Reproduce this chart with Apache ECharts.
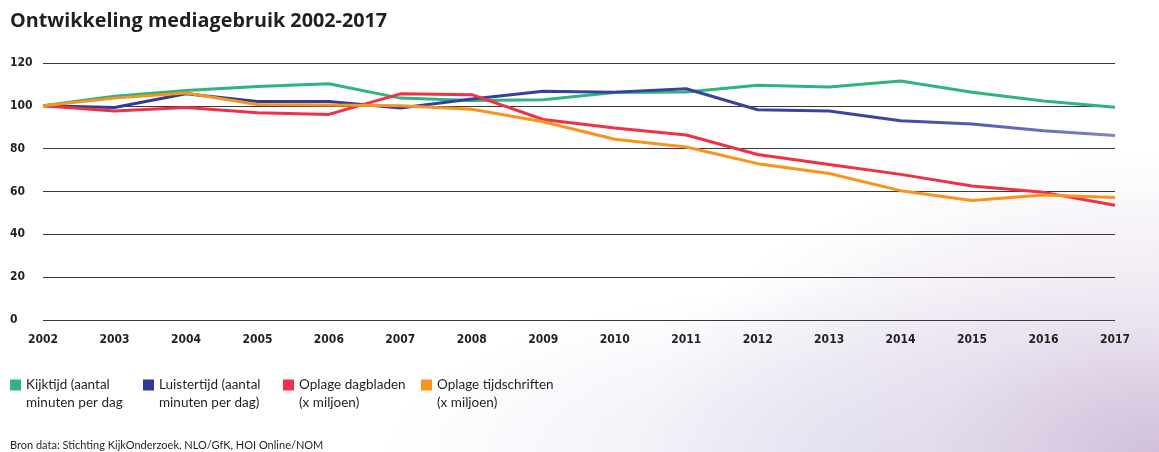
<!DOCTYPE html>
<html>
<head>
<meta charset="utf-8">
<script src="https://cdn.jsdelivr.net/npm/echarts@6/dist/echarts.min.js"></script>
<style>
  html, body { margin: 0; padding: 0; }
  body {
    width: 1159px; height: 452px; overflow: hidden;
    background:
      radial-gradient(ellipse 520px 300px at 100% 100%, rgba(205,186,215,0.9) 0%, rgba(225,212,232,0.6) 45%, rgba(255,255,255,0) 100%),
      radial-gradient(ellipse 520px 170px at 78% 100%, rgba(220,224,240,0.75) 0%, rgba(255,255,255,0) 100%),
      #ffffff;
  }
  #chart { width: 1159px; height: 452px; }
</style>
</head>
<body>
<div id="chart"></div>
<script>
const titleText = 'Ontwikkeling mediagebruik 2002-2017';
const sourceText = 'Bron data: Stichting KijkOnderzoek, NLO/GfK, HOI Online/NOM';
const years = ['2002','2003','2004','2005','2006','2007','2008','2009','2010','2011','2012','2013','2014','2015','2016','2017'];
const kijktijd     = [100, 104.5, 107.2, 109, 110.3, 103.6, 102.5, 102.8, 106.2, 106.5, 109.6, 108.8, 111.6, 106.3, 102.3, 99.3];
const luistertijd  = [100, 99.2, 105.6, 102, 102, 99, 103.2, 106.8, 106.4, 108, 98.2, 97.6, 93, 91.5, 88.4, 86.2];
const dagbladen    = [100, 97.6, 99.2, 96.8, 96, 105.6, 105.2, 93.6, 89.6, 86.4, 77.3, 72.6, 68, 62.6, 59.6, 53.6];
const tijdschriften= [100, 103.6, 106, 100.6, 100.4, 100, 98.4, 92.6, 84.4, 80.8, 73, 68.4, 60.4, 55.8, 58.4, 57.2];
const seriesNames = ['Kijktijd', 'Luistertijd', 'Oplage dagbladen', 'Oplage tijdschriften'];
const legendLine1 = ['Kijktijd (aantal', 'Luistertijd (aantal', 'Oplage dagbladen', 'Oplage tijdschriften'];
const legendLine2 = ['minuten per dag', 'minuten per dag)', '(x miljoen)', '(x miljoen)'];
const yTicks = [0, 20, 40, 60, 80, 100, 120];

const colors = ['#2fb57c', '#2e3a96', '#ee3148', '#f7941e'];
const seriesData = [kijktijd, luistertijd, dagbladen, tijdschriften];
const legendX = [10, 143, 283, 421];
const legendY = 378;
const axisFont = '"DejaVu Sans Condensed", "Liberation Sans Narrow", sans-serif';

const chart = echarts.init(document.getElementById('chart'), null, { renderer: 'canvas' });

const legends = seriesNames.map((n, i) => ({
  left: legendX[i], top: legendY,
  data: [n],
  icon: 'rect', itemWidth: 11, itemHeight: 11, itemGap: 0,
  padding: 0,
  formatter: () => legendLine1[i],
  textStyle: { fontFamily: 'Lato, "Open Sans", sans-serif', fontSize: 13.5, color: '#231f20' },
  selectedMode: false
}));

const graphics = [
  { type: 'text', left: 10, top: 11, style: { text: titleText, fontFamily: '"Open Sans", sans-serif', fontWeight: 'bold', fontSize: 19.8, fill: '#231f20' } },
  { type: 'text', left: 10, top: 440, style: { text: sourceText, fontFamily: 'Lato, "Open Sans", sans-serif', fontSize: 11, fill: '#231f20' } }
].concat(legendLine2.map((t, i) => ({
  type: 'text', left: legendX[i] + 16, top: legendY + 18,
  style: { text: t, fontFamily: 'Lato, "Open Sans", sans-serif', fontSize: 13.5, fill: '#231f20' }
})));

const option = {
  animation: false,
  backgroundColor: 'transparent',
  legend: legends,
  graphic: graphics,
  grid: { left: 43, right: 44, top: 63, bottom: 132, containLabel: false },
  xAxis: {
    type: 'category', data: years, boundaryGap: false,
    axisLine: { show: false }, axisTick: { show: false },
    axisLabel: { margin: 14, color: '#231f20', fontFamily: axisFont, fontSize: 12, fontWeight: 'bold', interval: 0 },
    splitLine: { show: false }
  },
  yAxis: {
    type: 'value', min: 0, max: 120, interval: 20,
    axisLine: { show: false }, axisTick: { show: false },
    axisLabel: { margin: 33, align: 'left', color: '#231f20', fontFamily: axisFont, fontSize: 12, fontWeight: 'bold',
      formatter: v => yTicks.includes(v) ? String(v) : '' },
    splitLine: { show: true, lineStyle: { color: '#3a3a3a', width: 1 } }
  },
  series: seriesNames.map((n, i) => ({
    name: n, type: 'line', data: seriesData[i],
    symbol: 'none', smooth: false,
    lineStyle: {
      width: 3,
      color: i === 1 ? new echarts.graphic.LinearGradient(0, 0, 1, 0, [
        { offset: 0, color: '#2e3a96' }, { offset: 0.78, color: '#3a45a0' }, { offset: 1, color: '#7f85c3' }
      ]) : colors[i]
    },
    itemStyle: { color: colors[i] },
    z: 2 + i
  }))
};
chart.setOption(option);
</script>
</body>
</html>
